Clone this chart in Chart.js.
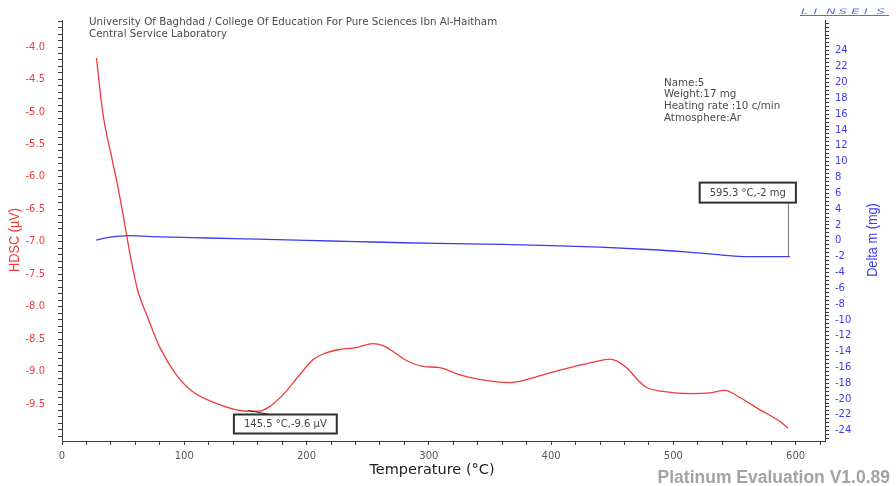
<!DOCTYPE html>
<html>
<head>
<meta charset="utf-8">
<title>HDSC / Delta m</title>
<script src="https://cdn.jsdelivr.net/npm/chart.js@4.4.1/dist/chart.umd.min.js"></script>
<style>
  html, body { margin: 0; padding: 0; background: #fff; }
  #wrap { width: 896px; height: 486px; }
</style>
</head>
<body>
<div id="wrap"><canvas id="thermoChart" width="896" height="486"></canvas></div>
<script>
// HDSC signal (µV) against temperature (°C)
const dscTemps = [28.2, 33.4, 40.5, 46.2, 51.1, 56.1, 61.8, 70.0, 79.8, 93.5, 107.0, 126.2, 145.5, 153.4,
  161.6, 169.8, 180.7, 194.4, 205.2, 213.4, 227.1, 240.8, 254.3, 262.5, 270.7, 281.7, 295.3, 308.9,
  325.3, 341.7, 366.2, 382.6, 398.9, 419.4, 435.8, 448.1, 460.4, 476.7, 493.0, 513.5, 529.9, 542.1,
  554.4, 570.8, 587.2, 593.7];
const dscSignal = [-4.17, -5.02, -5.69, -6.20, -6.71, -7.24, -7.74, -8.16, -8.62, -9.05, -9.31, -9.49, -9.60, -9.61,
  -9.61, -9.54, -9.36, -9.05, -8.82, -8.73, -8.66, -8.63, -8.57, -8.60, -8.69, -8.83, -8.92, -8.94,
  -9.05, -9.12, -9.17, -9.11, -9.02, -8.92, -8.85, -8.81, -8.92, -9.23, -9.31, -9.34, -9.33, -9.29,
  -9.40, -9.59, -9.77, -9.87];

// mass change (mg) against temperature (°C)
const tgTemps = [28.0, 35.0, 45.0, 55.0, 80.0, 120.0, 160.0, 200.0, 240.0, 280.0, 320.0, 360.0, 400.0,
  440.0, 480.0, 510.0, 540.0, 560.0, 580.0, 595.3];
const tgDelta = [0.10, 0.35, 0.55, 0.65, 0.50, 0.35, 0.20, 0.05, -0.10, -0.25, -0.35, -0.45, -0.60,
  -0.80, -1.10, -1.40, -1.80, -2.00, -2.00, -2.00];

// axis labels
const tempTicks = [0, 100, 200, 300, 400, 500, 600];
const hdscTicks = [-9.5, -9.0, -8.5, -8.0, -7.5, -7.0, -6.5, -6.0, -5.5, -5.0, -4.5, -4.0];
const deltaTicks = [-24, -22, -20, -18, -16, -14, -12, -10, -8, -6, -4, -2, 0, 2, 4, 6, 8, 10, 12, 14, 16, 18, 20, 22, 24];

const headerLines = ['University Of Baghdad / College Of Education For Pure Sciences Ibn Al-Haitham', 'Central Service Laboratory'];
const sampleInfo = ['Name:5', 'Weight:17 mg', 'Heating rate :10 c/min', 'Atmosphere:Ar'];

// evaluated points
const dscMarker = { x: 145.5, y: -9.6, text: '145.5 °C,-9.6 µV' };
const tgMarker = { x: 595.3, y: -2, text: '595.3 °C,-2 mg' };

const RED = '#ee3b3b';
const BLUE = '#3c3cee';
const AXIS = '#3a3a3a';
const TICK_FONT = { family: 'DejaVu Sans', size: 10 };

const toPoints = (xs, ys) => xs.map((x, i) => ({ x: x, y: ys[i] }));

// major ticks plus unlabeled minor ticks in between
function withMinors(majors, from, to, step) {
  const out = [];
  const n = Math.round((to - from) / step);
  for (let i = 0; i <= n; i++) {
    const v = +(from + i * step).toFixed(4);
    out.push({ value: v, major: majors.some(m => Math.abs(m - v) < 1e-6) });
  }
  return out;
}

// rotated, slightly condensed axis caption
function verticalTitle(ctx, text, cx, cy, color) {
  ctx.save();
  ctx.translate(cx, cy);
  ctx.rotate(-Math.PI / 2);
  ctx.scale(0.85, 1);
  ctx.fillStyle = color;
  ctx.font = '15px "Liberation Sans"';
  ctx.textAlign = 'center';
  ctx.textBaseline = 'middle';
  ctx.fillText(text, 0, 0);
  ctx.restore();
}

function valueBox(ctx, text, l, t, w, h) {
  ctx.fillStyle = '#fff';
  ctx.fillRect(l, t, w, h);
  ctx.strokeStyle = '#2e2e2e';
  ctx.lineWidth = 2;
  ctx.strokeRect(l, t, w, h);
  ctx.fillStyle = '#444';
  ctx.textAlign = 'center';
  ctx.textBaseline = 'middle';
  ctx.fillText(text, l + w / 2, t + h / 2 + 0.5);
}

const decorations = {
  id: 'decorations',
  afterDraw(chart) {
    const ctx = chart.ctx;
    const x = chart.scales.x;
    ctx.save();

    // header
    ctx.fillStyle = '#4a4a4a';
    ctx.font = '10.3px "DejaVu Sans"';
    ctx.textBaseline = 'middle';
    ctx.textAlign = 'left';
    headerLines.forEach((t, i) => ctx.fillText(t, 89, 22.5 + i * 12));

    // sample info
    sampleInfo.forEach((t, i) => ctx.fillText(t, 664, 83 + i * 11.7));

    // logo
    ctx.save();
    ctx.fillStyle = '#4d72d6';
    ctx.font = 'italic 7.5px "DejaVu Sans"';
    ctx.translate(801, 12.5);
    ctx.scale(1.7, 1);
    'LINSEIS'.split('').forEach((c, i) => ctx.fillText(c, i * 7.4, 0));
    ctx.restore();
    ctx.strokeStyle = '#4d72d6';
    ctx.lineWidth = 1;
    ctx.beginPath();
    ctx.moveTo(800, 15.5);
    ctx.lineTo(889, 15.5);
    ctx.stroke();

    // watermark
    ctx.fillStyle = '#a3a3a3';
    ctx.font = 'bold 17.5px "Liberation Sans"';
    ctx.textAlign = 'right';
    ctx.fillText('Platinum Evaluation V1.0.89', 890, 478);

    // axis captions
    verticalTitle(ctx, 'HDSC (µV)', 15, 240, RED);
    verticalTitle(ctx, 'Delta m (mg)', 873, 240, BLUE);
    ctx.fillStyle = '#1e1e1e';
    ctx.font = '14.5px "DejaVu Sans"';
    ctx.textAlign = 'center';
    ctx.fillText('Temperature (°C)', 432, 470);

    // value boxes
    ctx.font = '10px "DejaVu Sans"';

    const p1x = x.getPixelForValue(dscMarker.x);
    const p1y = chart.scales.yDsc.getPixelForValue(dscMarker.y);
    const w1 = ctx.measureText(dscMarker.text).width + 20;
    ctx.strokeStyle = '#333';
    ctx.lineWidth = 1;
    ctx.beginPath();
    ctx.moveTo(p1x + 8, p1y);
    ctx.lineTo(p1x + 30, p1y + 4);
    ctx.stroke();
    valueBox(ctx, dscMarker.text, p1x - 6, p1y + 4, w1, 19);

    const p2x = x.getPixelForValue(tgMarker.x);
    const p2y = chart.scales.yTg.getPixelForValue(tgMarker.y);
    const w2 = ctx.measureText(tgMarker.text).width + 20;
    ctx.strokeStyle = '#777';
    ctx.lineWidth = 1;
    ctx.beginPath();
    ctx.moveTo(p2x - 1.5, p2y - 54);
    ctx.lineTo(p2x - 1.5, p2y);
    ctx.stroke();
    valueBox(ctx, tgMarker.text, p2x + 6 - w2, p2y - 74, w2, 20);

    ctx.restore();
  }
};

const axisGrid = { display: true, drawOnChartArea: false, drawTicks: true, tickLength: 4, tickColor: AXIS };
const axisBorder = { display: true, color: AXIS, width: 1 };

new Chart(document.getElementById('thermoChart'), {
  type: 'line',
  data: {
    datasets: [
      {
        label: 'HDSC',
        data: toPoints(dscTemps, dscSignal),
        yAxisID: 'yDsc',
        borderColor: RED,
        borderWidth: 1.3,
        pointRadius: 0,
        cubicInterpolationMode: 'monotone',
        fill: false
      },
      {
        label: 'Delta m',
        data: toPoints(tgTemps, tgDelta),
        yAxisID: 'yTg',
        borderColor: BLUE,
        borderWidth: 1.3,
        pointRadius: 0,
        cubicInterpolationMode: 'monotone',
        fill: false
      }
    ]
  },
  options: {
    responsive: false,
    animation: false,
    devicePixelRatio: 1,
    layout: { padding: { top: 20, left: 0, right: 0, bottom: 0 } },
    plugins: { legend: { display: false }, tooltip: { enabled: false } },
    scales: {
      x: {
        type: 'linear',
        min: 0,
        max: 624,
        grid: axisGrid,
        border: axisBorder,
        afterBuildTicks: s => { s.ticks = withMinors(tempTicks, 0, 620, 20); },
        afterFit: s => { s.height = 45; },
        ticks: {
          autoSkip: false,
          maxRotation: 0,
          padding: 5,
          color: '#555',
          font: TICK_FONT,
          callback: (v, i, ticks) => ticks[i].major ? String(v) : ''
        }
      },
      yDsc: {
        type: 'linear',
        position: 'left',
        min: -10.07,
        max: -3.584,
        grid: axisGrid,
        border: axisBorder,
        afterBuildTicks: s => { s.ticks = withMinors(hdscTicks, -10.0, -3.6, 0.1); },
        afterFit: s => { s.width = 62; },
        ticks: {
          autoSkip: false,
          padding: 13,
          color: RED,
          font: TICK_FONT,
          callback: (v, i, ticks) => ticks[i].major ? v.toFixed(1) : ''
        }
      },
      yTg: {
        type: 'linear',
        position: 'right',
        min: -25.3,
        max: 27.9,
        grid: axisGrid,
        border: axisBorder,
        afterBuildTicks: s => { s.ticks = withMinors(deltaTicks, -25, 27.5, 0.5); },
        afterFit: s => { s.width = 71; },
        ticks: {
          autoSkip: false,
          padding: 6,
          color: BLUE,
          font: TICK_FONT,
          callback: (v, i, ticks) => ticks[i].major ? String(v) : ''
        }
      }
    }
  },
  plugins: [decorations]
});
</script>
</body>
</html>
